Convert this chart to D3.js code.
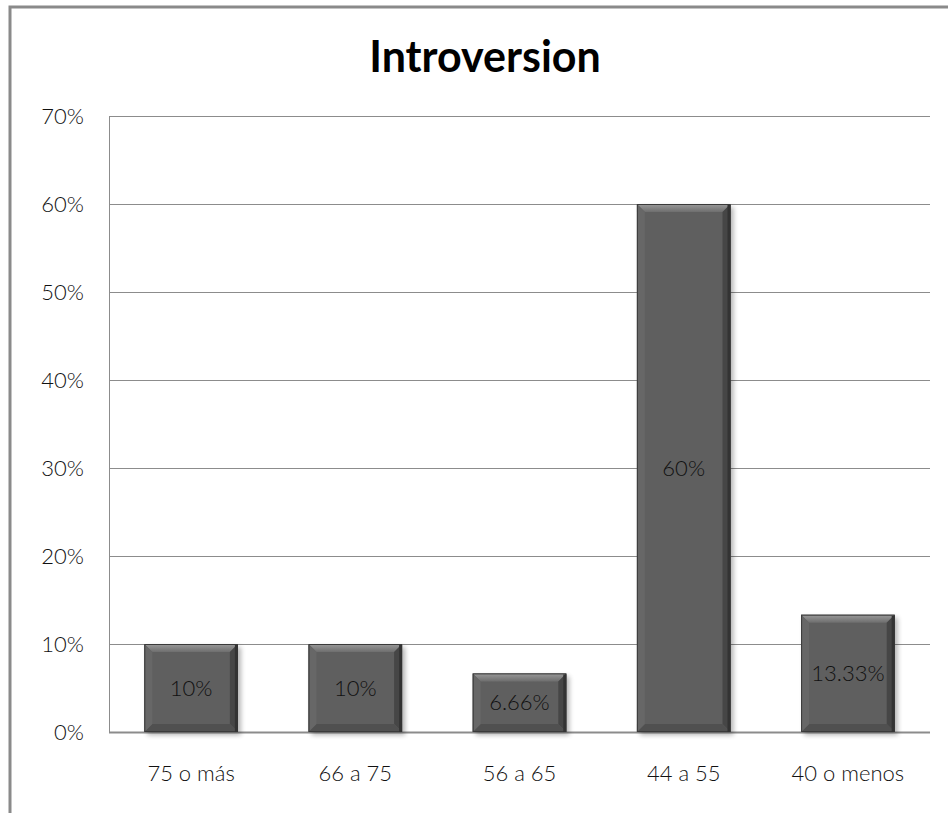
<!DOCTYPE html>
<html>
<head>
<meta charset="utf-8">
<script src="https://cdn.jsdelivr.net/npm/d3@7"></script>
<style>
  html, body { margin: 0; padding: 0; background: #fff; }
  svg { display: block; }
  text { font-family: Lato, "Open Sans", "Noto Sans", sans-serif; }
</style>
</head>
<body>
<svg id="chart" width="948" height="813"></svg>
<script>
// Introversion score ranges and the share of respondents in each
const categories = ["75 o más", "66 a 75", "56 a 65", "44 a 55", "40 o menos"];
const shares = [10, 10, 6.66, 60, 13.33];
const valueLabels = ["10%", "10%", "6.66%", "60%", "13.33%"];
const yTicks = [0, 10, 20, 30, 40, 50, 60, 70];
const title = "Introversion";

const svg = d3.select("#chart");
const W = 948, H = 813;
const plot = { left: 109, right: 930, top: 116, bottom: 732 };
const labelFont = 'Lato, "Open Sans", sans-serif';

// outer chart frame (left and top edges visible)
svg.append("path")
  .attr("d", `M10,${H} L10,7 L${W},7`)
  .attr("fill", "none")
  .attr("stroke", "#8a8a8a")
  .attr("stroke-width", 3);

svg.append("text")
  .attr("x", 485).attr("y", 72)
  .attr("text-anchor", "middle")
  .attr("font-size", 43)
  .attr("font-weight", "bold")
  .attr("fill", "#000")
  .text(title);

const x = d3.scaleBand()
  .domain(categories)
  .range([plot.left, plot.right])
  .paddingInner(0.43)
  .paddingOuter(0.215);

const y = d3.scaleLinear()
  .domain([0, 70])
  .range([plot.bottom, plot.top]);

// gridlines
svg.append("g")
  .selectAll("line")
  .data(yTicks)
  .join("line")
  .attr("x1", plot.left).attr("x2", plot.right)
  .attr("y1", d => Math.round(y(d)) + 0.5).attr("y2", d => Math.round(y(d)) + 0.5)
  .attr("stroke", "#8c8c8c")
  .attr("stroke-width", d => d === 0 ? 2 : 1);

// left plot edge
svg.append("line")
  .attr("x1", plot.left + 0.5).attr("x2", plot.left + 0.5)
  .attr("y1", plot.top).attr("y2", plot.bottom)
  .attr("stroke", "#8c8c8c");

// y axis labels
const yAxis = d3.axisLeft(y)
  .tickValues(yTicks)
  .tickFormat(d => d + "%")
  .tickSize(0)
  .tickPadding(25);
const gy = svg.append("g").attr("transform", `translate(${plot.left},0)`).call(yAxis);
gy.select(".domain").remove();
gy.selectAll("text")
  .attr("font-size", 22)
  .attr("font-weight", 300)
  .attr("fill", "#111")
  .style("font-family", labelFont);

// x axis labels
const xAxis = d3.axisBottom(x).tickSize(0).tickPadding(33);
const gx = svg.append("g").attr("transform", `translate(0,${plot.bottom})`).call(xAxis);
gx.select(".domain").remove();
gx.selectAll("text")
  .attr("font-size", 22)
  .attr("font-weight", 300)
  .attr("fill", "#111")
  .style("font-family", labelFont);

// soft drop shadow and bevel shading
const defs = svg.append("defs");
const f = defs.append("filter").attr("id", "shadow")
  .attr("x", "-20%").attr("y", "-20%").attr("width", "140%").attr("height", "140%");
f.append("feGaussianBlur").attr("in", "SourceAlpha").attr("stdDeviation", 2.5);
f.append("feOffset").attr("dx", 3).attr("dy", 3).attr("result", "b");
f.append("feComponentTransfer").append("feFuncA").attr("type", "linear").attr("slope", 0.3);
const m = f.append("feMerge");
m.append("feMergeNode");
m.append("feMergeNode").attr("in", "SourceGraphic");

const topGrad = defs.append("linearGradient").attr("id", "topBevel")
  .attr("x1", 0).attr("y1", 0).attr("x2", 0).attr("y2", 1);
topGrad.append("stop").attr("offset", "0%").attr("stop-color", "#9a9a9a");
topGrad.append("stop").attr("offset", "100%").attr("stop-color", "#6e6e6e");

const bars = svg.append("g")
  .selectAll("g")
  .data(categories.map((c, i) => ({ c, v: shares[i], label: valueLabels[i] })))
  .join("g");

const bev = 8;
bars.each(function(d) {
  const g = d3.select(this);
  const x0 = x(d.c), x1 = x0 + x.bandwidth();
  const y0 = y(d.v), y1 = y(0);
  g.append("rect")
    .attr("x", x0).attr("y", y0)
    .attr("width", x1 - x0).attr("height", y1 - y0)
    .attr("fill", "#5e5e5e")
    .attr("filter", "url(#shadow)");
  const faces = [
    { pts: [[x0, y0], [x1, y0], [x1 - bev, y0 + bev], [x0 + bev, y0 + bev]], fill: "url(#topBevel)" },
    { pts: [[x1, y0], [x1, y1], [x1 - bev, y1 - bev], [x1 - bev, y0 + bev]], fill: "#464646" },
    { pts: [[x0, y1], [x1, y1], [x1 - bev, y1 - bev], [x0 + bev, y1 - bev]], fill: "#505050" },
    { pts: [[x0, y0], [x0 + bev, y0 + bev], [x0 + bev, y1 - bev], [x0, y1]], fill: "#676767" }
  ];
  faces.forEach(fc => {
    g.append("polygon")
      .attr("points", fc.pts.map(p => p.join(",")).join(" "))
      .attr("fill", fc.fill);
  });
  g.append("rect")
    .attr("x", x0 + 0.5).attr("y", y0 + 0.5)
    .attr("width", x1 - x0 - 1).attr("height", y1 - y0 - 1)
    .attr("fill", "none").attr("stroke", "#3a3a3a").attr("stroke-width", 1);
  g.append("line")
    .attr("x1", x1 - 1.5).attr("x2", x1 - 1.5)
    .attr("y1", y0 + 1).attr("y2", y1)
    .attr("stroke", "#333").attr("stroke-width", 3);
  g.append("text")
    .attr("x", (x0 + x1) / 2)
    .attr("y", (y0 + y1) / 2)
    .attr("dy", "0.35em")
    .attr("text-anchor", "middle")
    .attr("font-size", 22)
    .attr("font-weight", 300)
    .attr("fill", "#111")
    .style("font-family", labelFont)
    .text(d.label);
});
</script>
</body>
</html>
